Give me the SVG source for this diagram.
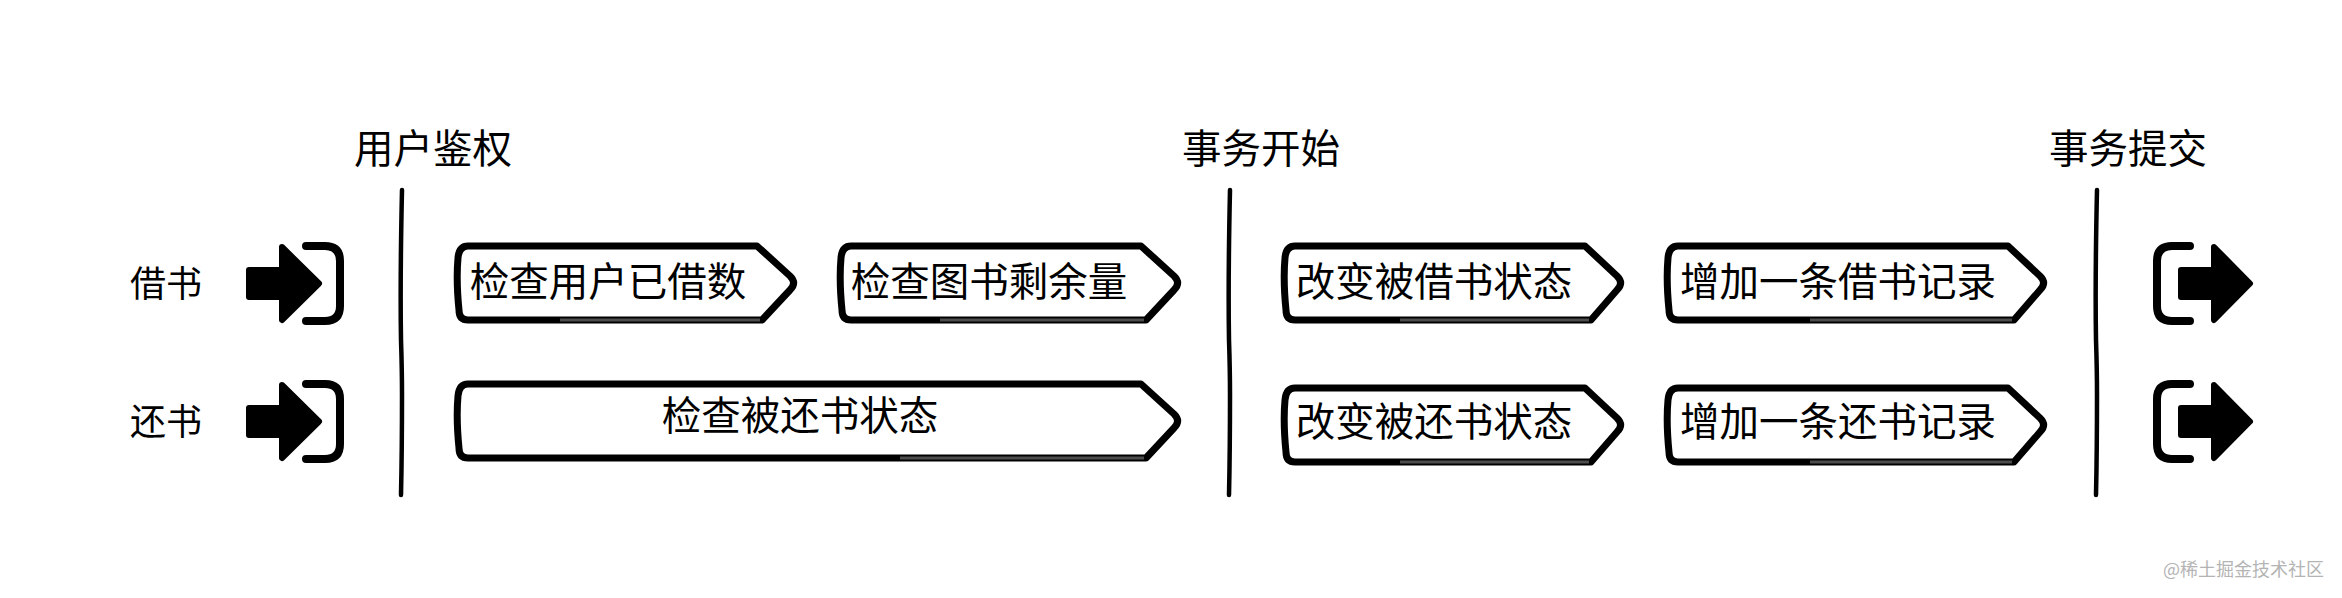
<svg xmlns="http://www.w3.org/2000/svg" width="2342" height="598" viewBox="0 0 2342 598">
<style>
text{font-family:"Noto Sans CJK SC","Noto Sans",sans-serif;fill:#000;font-size:39.500px;text-anchor:middle}
.lab{font-size:36px}
.box{fill:#fff;stroke:#000;stroke-width:7;stroke-linejoin:round}
.low{fill:none;stroke:#fff;stroke-opacity:.3;stroke-width:3}
.sep{fill:none;stroke:#000;stroke-width:4.500;stroke-linecap:round}
.br{fill:none;stroke:#000;stroke-width:8;stroke-linecap:round;stroke-linejoin:round}
.ah{fill:#000;stroke:#000;stroke-width:6;stroke-linejoin:round}
.wm{font-size:18px;fill:#b4b4b4;text-anchor:end}
</style>
<defs>
<g id="enter">
<path class="ah" d="M249 270H282V247L319 283.500L282 320V297H249Z"/>
<path class="br" d="M306 246H325Q340 246 340 261V306Q340 321 325 321H306"/>
</g>
<g id="exit">
<path class="br" d="M2190 246H2172Q2157 246 2157 261V306Q2157 321 2172 321H2190"/>
<path class="ah" d="M2181 270H2214V247L2250 283.500L2214 320V297H2181Z"/>
</g>
</defs>
<rect width="2342" height="598" fill="#fff"/>
<g id="connectors">
<path class="sep" d="M402 190Q400 280 401 340Q402 370 402 395Q402 450 401 495"/>
<path class="sep" d="M1230 190Q1228 280 1229 340Q1230 370 1230 395Q1230 450 1229 495"/>
<path class="sep" d="M2097 190Q2095 280 2096 340Q2097 370 2097 395Q2097 450 2096 495"/>
</g>
<g id="title-auth"><text x="433" y="163">用户鉴权</text></g>
<g id="title-begin"><text x="1261" y="163">事务开始</text></g>
<g id="title-commit"><text x="2128" y="163">事务提交</text></g>
<g id="label-borrow"><text class="lab" x="166" y="297">借书</text></g>
<g id="label-return"><text class="lab" x="166" y="435">还书</text></g>
<g id="in-borrow"><use href="#enter"/></g>
<g id="in-return"><use href="#enter" y="138"/></g>
<g id="out-borrow"><use href="#exit"/></g>
<g id="out-return"><use href="#exit" y="138"/></g>
<g id="step-1"><path class="box" d="M468 246H757L790 276Q797 283 790 290L762 320H468Q459 320 459 310Q456 280 458 258Q459 246 468 246Z"/><path class="low" d="M560 320H760"/><text x="608" y="296">检查用户已借数</text></g>
<g id="step-2"><path class="box" d="M851 246H1141L1174 276Q1181 283 1174 290L1146 320H851Q842 320 842 310Q839 280 841 258Q842 246 851 246Z"/><path class="low" d="M940 320H1144"/><text x="989" y="296">检查图书剩余量</text></g>
<g id="step-3"><path class="box" d="M468 384H1141L1174 414Q1181 421 1174 428L1146 458H468Q459 458 459 448Q456 418 458 396Q459 384 468 384Z"/><path class="low" d="M900 458H1144"/><text x="800" y="430">检查被还书状态</text></g>
<g id="step-4"><path class="box" d="M1295 246H1585L1617 276Q1624 283 1617 290L1591 320H1295Q1286 320 1286 310Q1283 280 1285 258Q1286 246 1295 246Z"/><path class="low" d="M1400 320H1589"/><text x="1434" y="296">改变被借书状态</text></g>
<g id="step-5"><path class="box" d="M1678 246H2008L2040 276Q2047 283 2040 290L2014 320H1678Q1669 320 1669 310Q1666 280 1668 258Q1669 246 1678 246Z"/><path class="low" d="M1810 320H2012"/><text x="1838" y="296">增加一条借书记录</text></g>
<g id="step-6"><path class="box" d="M1295 388H1585L1617 418Q1624 425 1617 432L1591 462H1295Q1286 462 1286 452Q1283 422 1285 400Q1286 388 1295 388Z"/><path class="low" d="M1400 462H1589"/><text x="1434" y="436">改变被还书状态</text></g>
<g id="step-7"><path class="box" d="M1678 388H2008L2040 418Q2047 425 2040 432L2014 462H1678Q1669 462 1669 452Q1666 422 1668 400Q1669 388 1678 388Z"/><path class="low" d="M1810 462H2012"/><text x="1838" y="436">增加一条还书记录</text></g>
<text class="wm" x="2324" y="576">@稀土掘金技术社区</text>
</svg>
